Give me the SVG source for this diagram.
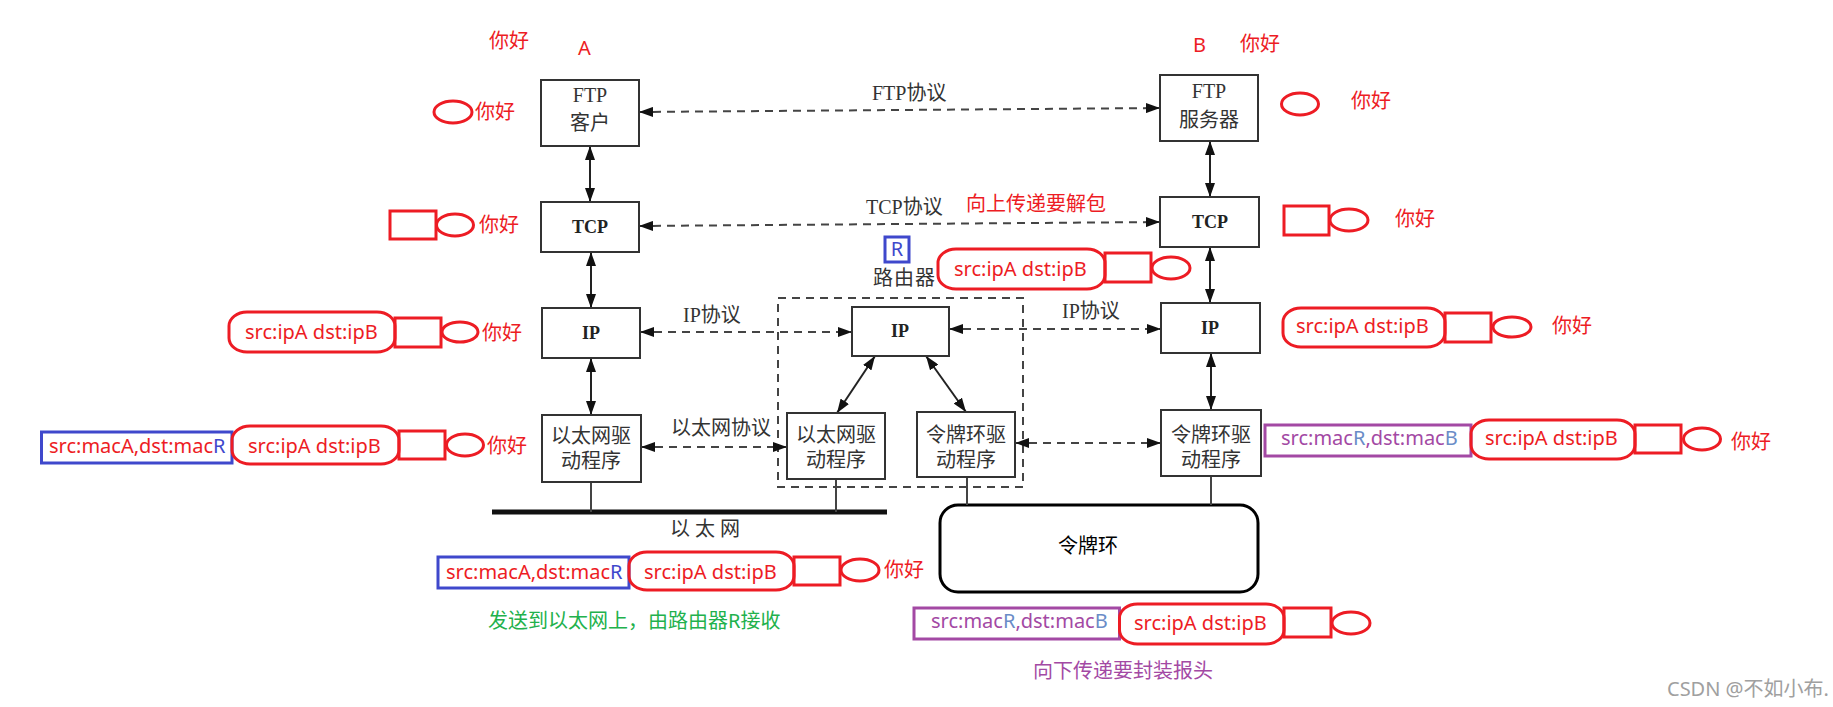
<svg xmlns="http://www.w3.org/2000/svg" width="1833" height="707" viewBox="0 0 1833 707">
<style>
.box{fill:#fff;stroke:#333;stroke-width:2}
.bk{font-family:"Liberation Serif","Noto Sans CJK SC",serif;fill:#333;font-size:20px;text-anchor:middle}
.bkb{font-family:"Liberation Serif","Noto Sans CJK SC",serif;fill:#222;font-size:18px;font-weight:bold;text-anchor:middle}
.lbl{font-family:"Liberation Serif","Noto Sans CJK SC",serif;fill:#333;font-size:20px}
.ann{font-family:"Noto Sans","Noto Sans CJK SC",sans-serif;font-size:20px}
.red{fill:#ED1C24}
.blu{fill:#3F48CC}
.pur{fill:#A349A4}
.lb{fill:#6A8CC7}
.rs{fill:none;stroke:#ED1C24;stroke-width:3}
.bs{fill:none;stroke:#3F48CC;stroke-width:3}
.ps{fill:none;stroke:#A349A4;stroke-width:3}
.solid{stroke:#222;stroke-width:2;fill:none;marker-start:url(#ah);marker-end:url(#ah)}
.dash{stroke:#444;stroke-width:2;fill:none;stroke-dasharray:8 6;marker-start:url(#ah);marker-end:url(#ah)}
.link{stroke:#444;stroke-width:2;fill:none}
</style>
<defs>
<marker id="ah" viewBox="0 0 14 10" refX="14" refY="5" markerWidth="14" markerHeight="10" markerUnits="userSpaceOnUse" orient="auto-start-reverse">
<path d="M0,0 L14,5 L0,10 z" fill="#111"/>
</marker>
</defs>
<rect width="1833" height="707" fill="#fff"/>

<!-- Router dashed enclosure -->
<g id="router">
<rect x="778" y="298" width="245" height="189" fill="none" stroke="#444" stroke-width="2" stroke-dasharray="8 6"/>
<text class="lbl" x="873" y="285" letter-spacing="1">路由器</text>
<rect x="885" y="237" width="24" height="25" class="bs" stroke-width="2.5"/>
<text class="ann blu" x="897" y="256" text-anchor="middle" font-size="18">R</text>
</g>

<!-- Ethernet bus -->
<g id="ethernet">
<line x1="492" y1="512" x2="887" y2="512" stroke="#111" stroke-width="5"/>
<text class="lbl" x="670" y="536" letter-spacing="5">以太网</text>
</g>

<!-- Token ring -->
<g id="tokenring">
<rect x="940" y="505" width="318" height="87" rx="18" ry="18" fill="#fff" stroke="#000" stroke-width="3"/>
<text class="ann" x="1088" y="553" text-anchor="middle" fill="#000">令牌环</text>
</g>

<g id="connectors">
<line class="link" x1="591" y1="482" x2="591" y2="512"/>
<line class="link" x1="836" y1="479" x2="836" y2="512"/>
<line class="link" x1="967" y1="477" x2="967" y2="505"/>
<line class="link" x1="1211" y1="476" x2="1211" y2="505"/>
<line class="solid" x1="590" y1="146" x2="590" y2="202"/>
<line class="solid" x1="591" y1="252" x2="591" y2="308"/>
<line class="solid" x1="591" y1="358" x2="591" y2="415"/>
<line class="solid" x1="1210" y1="141" x2="1210" y2="197"/>
<line class="solid" x1="1210" y1="247" x2="1210" y2="303"/>
<line class="solid" x1="1211" y1="353" x2="1211" y2="410"/>
<line class="solid" x1="875" y1="356" x2="837" y2="413"/>
<line class="solid" x1="926" y1="356" x2="966" y2="412"/>
<line class="dash" x1="639" y1="112" x2="1160" y2="108"/>
<line class="dash" x1="639" y1="226" x2="1160" y2="222"/>
<line class="dash" x1="640" y1="332" x2="852" y2="332"/>
<line class="dash" x1="949" y1="329" x2="1161" y2="329"/>
<line class="dash" x1="641" y1="447" x2="787" y2="447"/>
<line class="dash" x1="1015" y1="443" x2="1161" y2="443"/>
<text class="lbl" x="872" y="100">FTP协议</text>
<text class="lbl" x="866" y="214">TCP协议</text>
<text class="lbl" x="683" y="322">IP协议</text>
<text class="lbl" x="1062" y="318" font-size="18.5">IP协议</text>
<text class="lbl" x="671" y="435" font-size="19">以太网协议</text>
</g>

<g id="ftpClient"><rect class="box" x="541" y="80" width="98" height="66"/><text class="bk" x="590" y="102">FTP</text><text class="bk" x="590" y="130">客户</text></g>
<g id="tcpA"><rect class="box" x="541" y="202" width="98" height="50"/><text class="bkb" x="590" y="233">TCP</text></g>
<g id="ipA"><rect class="box" x="542" y="308" width="98" height="50"/><text class="bkb" x="591" y="339">IP</text></g>
<g id="ethA"><rect class="box" x="542" y="415" width="99" height="67"/><text class="bk" x="591" y="443" font-size="19">以太网驱</text><text class="bk" x="591" y="468" font-size="19">动程序</text></g>
<g id="routerIP"><rect class="box" x="852" y="307" width="97" height="49"/><text class="bkb" x="900" y="337">IP</text></g>
<g id="routerEth"><rect class="box" x="787" y="413" width="98" height="66"/><text class="bk" x="836" y="442" font-size="19">以太网驱</text><text class="bk" x="836" y="467" font-size="19">动程序</text></g>
<g id="routerTok"><rect class="box" x="917" y="412" width="98" height="65"/><text class="bk" x="966" y="442" font-size="19">令牌环驱</text><text class="bk" x="966" y="467" font-size="19">动程序</text></g>
<g id="ftpServer"><rect class="box" x="1160" y="75" width="98" height="66"/><text class="bk" x="1209" y="98">FTP</text><text class="bk" x="1209" y="127">服务器</text></g>
<g id="tcpB"><rect class="box" x="1160" y="197" width="99" height="50"/><text class="bkb" x="1210" y="228">TCP</text></g>
<g id="ipB"><rect class="box" x="1161" y="303" width="99" height="50"/><text class="bkb" x="1210" y="334">IP</text></g>
<g id="tokB"><rect class="box" x="1161" y="410" width="100" height="66"/><text class="bk" x="1211" y="442" font-size="19">令牌环驱</text><text class="bk" x="1211" y="467" font-size="19">动程序</text></g>

<!-- annotations -->
<g id="labelsAB">
<text class="ann red" x="489" y="48">你好</text>
<text class="ann red" x="578" y="55" font-size="23">A</text>
<text class="ann red" x="1193" y="52" font-size="23">B</text>
<text class="ann red" x="1240" y="51">你好</text>
<text class="ann red" x="966" y="211">向上传递要解包</text>
</g>
<g id="annFtpA">
<ellipse class="rs" cx="453" cy="112" rx="19" ry="11"/>
<text class="ann red" x="475" y="119">你好</text>
</g>
<g id="annTcpA">
<rect class="rs" x="390" y="211" width="46" height="28"/>
<ellipse class="rs" cx="455" cy="225" rx="18.5" ry="11"/>
<text class="ann red" x="479" y="232">你好</text>
</g>
<g id="annIpA">
<rect class="rs" x="229" y="312" width="166" height="40" rx="18" ry="14"/>
<text class="ann red" x="245" y="339">src:ipA dst:ipB</text>
<rect class="rs" x="395" y="318" width="46" height="29"/>
<ellipse class="rs" cx="460" cy="332" rx="18" ry="10"/>
<text class="ann red" x="482" y="340">你好</text>
</g>
<g id="annEthA">
<rect class="bs" x="41.5" y="432" width="190.5" height="31"/>
<text class="ann red" x="49" y="453">src:macA,dst:mac<tspan class="blu">R</tspan></text>
<rect class="rs" x="232" y="426" width="167" height="38" rx="18" ry="14"/>
<text class="ann red" x="248" y="453">src:ipA dst:ipB</text>
<rect class="rs" x="399" y="431" width="46" height="28"/>
<ellipse class="rs" cx="465" cy="445" rx="18.5" ry="11"/>
<text class="ann red" x="487" y="453">你好</text>
</g>
<g id="annFtpB">
<ellipse class="rs" cx="1300" cy="104" rx="18.5" ry="11"/>
<text class="ann red" x="1351" y="108">你好</text>
</g>
<g id="annTcpB">
<rect class="rs" x="1284" y="206" width="45" height="29"/>
<ellipse class="rs" cx="1349" cy="220" rx="19" ry="11"/>
<text class="ann red" x="1395" y="226">你好</text>
</g>
<g id="annRouter">
<rect class="rs" x="938" y="249" width="167" height="40" rx="18" ry="14"/>
<text class="ann red" x="954" y="276">src:ipA dst:ipB</text>
<rect class="rs" x="1105" y="253" width="46" height="29"/>
<ellipse class="rs" cx="1171" cy="268" rx="19" ry="11"/>
</g>
<g id="annIpB">
<rect class="rs" x="1283" y="308" width="162" height="39" rx="18" ry="14"/>
<text class="ann red" x="1296" y="333">src:ipA dst:ipB</text>
<rect class="rs" x="1445" y="313" width="46" height="29"/>
<ellipse class="rs" cx="1512" cy="327" rx="19" ry="10"/>
<text class="ann red" x="1552" y="333">你好</text>
</g>
<g id="annTokB">
<rect class="ps" x="1265" y="425" width="206" height="31"/>
<text class="ann pur" x="1281" y="445">src:mac<tspan class="lb">R</tspan>,dst:mac<tspan class="lb">B</tspan></text>
<rect class="rs" x="1471" y="420" width="164" height="39" rx="18" ry="14"/>
<text class="ann red" x="1485" y="445">src:ipA dst:ipB</text>
<rect class="rs" x="1635" y="425" width="46" height="28"/>
<ellipse class="rs" cx="1702" cy="439" rx="18.5" ry="11"/>
<text class="ann red" x="1731" y="449">你好</text>
</g>
<g id="annEthBus">
<rect class="bs" x="438" y="557" width="191" height="31"/>
<text class="ann red" x="446" y="579">src:macA,dst:mac<tspan class="blu">R</tspan></text>
<rect class="rs" x="629" y="552" width="165" height="38" rx="18" ry="14"/>
<text class="ann red" x="644" y="579">src:ipA dst:ipB</text>
<rect class="rs" x="794" y="557" width="46" height="28"/>
<ellipse class="rs" cx="860" cy="570" rx="19" ry="11"/>
<text class="ann red" x="884" y="577">你好</text>
<text class="ann" x="488" y="628" font-size="21.5" fill="#22B14C">发送到以太网上，由路由器R接收</text>
</g>
<g id="annTokRing">
<rect class="ps" x="914" y="608" width="205.5" height="31"/>
<text class="ann pur" x="931" y="628">src:mac<tspan class="lb">R</tspan>,dst:mac<tspan class="lb">B</tspan></text>
<rect class="rs" x="1119.5" y="604" width="164.5" height="40" rx="18" ry="14"/>
<text class="ann red" x="1134" y="630">src:ipA dst:ipB</text>
<rect class="rs" x="1284" y="608" width="47" height="29"/>
<ellipse class="rs" cx="1351" cy="623" rx="19" ry="11"/>
<text class="ann pur" x="1033" y="678">向下传递要封装报头</text>
</g>
<text class="ann" x="1667" y="696" font-size="16" fill="#A0A0A0">CSDN @不如小布.</text>
</svg>
